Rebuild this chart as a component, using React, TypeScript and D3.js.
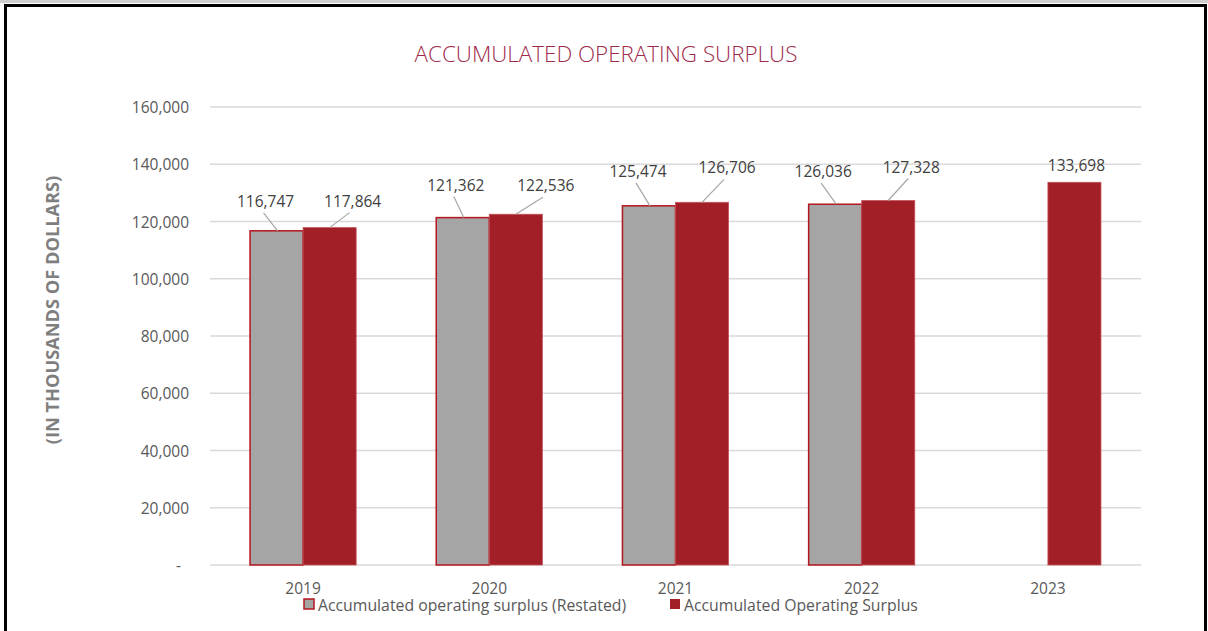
import * as d3 from "d3";
import * as React from "react";

// chart values
const years = ["2019", "2020", "2021", "2022", "2023"];
const restated = [116747, 121362, 125474, 126036, null];
const surplus = [117864, 122536, 126706, 127328, 133698];
const yTicks = [0, 20000, 40000, 60000, 80000, 100000, 120000, 140000, 160000];

const seriesNames = ["Accumulated operating surplus (Restated)", "Accumulated Operating Surplus"];

// where Excel dragged each data label to (px from bar top centre)
const restatedNudge = [[-11, -30], [-7, -33], [-11, -35], [-12, -33], [0, 0]];
const surplusNudge = [[23, -27], [30, -29], [25, -35], [23, -34], [2, -17]];

export default function App() {
  const ref = React.useRef<SVGSVGElement>(null);

  React.useEffect(() => {
    const width = 1208, height = 631;
    const margin = { top: 107, right: 67, bottom: 66, left: 210 };
    const font = "'Open Sans', 'Noto Sans', sans-serif";
    const gray = "#a5a5a5", red = "#a21f27";

    const svg = d3.select(ref.current);
    svg.selectAll("*").remove();
    svg.attr("width", width).attr("height", height).attr("font-family", font);

    // page frame
    svg.append("rect").attr("width", width).attr("height", height).attr("fill", "#fff");
    svg.append("rect").attr("width", width).attr("height", 3).attr("fill", "#cfcfcf");
    svg.append("rect")
      .attr("x", 5.5).attr("y", 5.5)
      .attr("width", 1200).attr("height", height + 10)
      .attr("fill", "none").attr("stroke", "#000").attr("stroke-width", 3);

    const y = d3.scaleLinear()
      .domain([0, 160000])
      .range([height - margin.bottom, margin.top]);

    const x0 = d3.scaleBand()
      .domain(years)
      .range([margin.left, width - margin.right])
      .paddingInner(0.43)
      .paddingOuter(0.215);

    const x1 = d3.scaleBand()
      .domain(["restated", "surplus"])
      .range([0, x0.bandwidth()]);

    // title
    svg.append("text")
      .attr("x", 606).attr("y", 53)
      .attr("text-anchor", "middle").attr("dominant-baseline", "central")
      .attr("font-size", 22.4).attr("font-weight", 300)
      .attr("fill", "#9e2a4b")
      .text("ACCUMULATED OPERATING SURPLUS");

    // gridlines + y labels
    const grid = svg.append("g");
    grid.selectAll("line")
      .data(yTicks)
      .join("line")
      .attr("x1", margin.left).attr("x2", width - margin.right)
      .attr("y1", d => y(d)).attr("y2", d => y(d))
      .attr("stroke", "#d9d9d9").attr("stroke-width", 1.5);
    grid.selectAll("text")
      .data(yTicks)
      .join("text")
      .attr("x", d => (d === 0 ? 181 : 189))
      .attr("y", d => y(d))
      .attr("text-anchor", "end").attr("dominant-baseline", "central")
      .attr("font-size", 15.5).attr("fill", "#595959")
      .text(d => (d === 0 ? "-" : d3.format(",")(d)));

    // y axis title
    svg.append("text")
      .attr("transform", `translate(52,${310}) rotate(-90)`)
      .attr("text-anchor", "middle").attr("dominant-baseline", "central")
      .attr("font-size", 18.2).attr("font-weight", 700)
      .attr("fill", "#7f7f7f")
      .text("(IN THOUSANDS OF DOLLARS)");

    // bars
    const rows = years.map((yr, i) => ({
      year: yr,
      items: [
        { key: "restated", value: restated[i], nudge: restatedNudge[i] },
        { key: "surplus", value: surplus[i], nudge: surplusNudge[i] },
      ].filter(d => d.value != null),
    }));

    const groups = svg.append("g")
      .selectAll("g")
      .data(rows)
      .join("g")
      .attr("transform", d => `translate(${x0(d.year)},0)`);

    groups.selectAll("rect")
      .data(d => d.items)
      .join("rect")
      .attr("x", d => x1(d.key)!)
      .attr("y", d => y(d.value!))
      .attr("width", x1.bandwidth())
      .attr("height", d => y(0) - y(d.value!))
      .attr("fill", d => (d.key === "restated" ? gray : red))
      .attr("stroke", d => (d.key === "restated" ? "#b4161e" : "#c4545a"))
      .attr("stroke-width", d => (d.key === "restated" ? 1.5 : 0.8));

    // leader lines
    groups.selectAll("line")
      .data(d => d.items.filter(it => Math.hypot(it.nudge[0], it.nudge[1]) > 20))
      .join("line")
      .attr("x1", d => x1(d.key)! + x1.bandwidth() / 2 + d.nudge[0] - (d.key === "restated" ? 2 : 3))
      .attr("y1", d => y(d.value!) + d.nudge[1] + 12)
      .attr("x2", d => x1(d.key)! + x1.bandwidth() / 2 + (d.key === "restated" ? 1 : 0))
      .attr("y2", d => y(d.value!))
      .attr("stroke", "#a6a6a6").attr("stroke-width", 1.2);

    // data labels
    groups.selectAll("text")
      .data(d => d.items)
      .join("text")
      .attr("x", d => x1(d.key)! + x1.bandwidth() / 2 + d.nudge[0])
      .attr("y", d => y(d.value!) + d.nudge[1])
      .attr("text-anchor", "middle").attr("dominant-baseline", "central")
      .attr("font-size", 15.5).attr("fill", "#404040")
      .text(d => d3.format(",")(d.value!));

    // x labels
    svg.append("g")
      .selectAll("text")
      .data(years)
      .join("text")
      .attr("x", d => x0(d)! + x0.bandwidth() / 2)
      .attr("y", 587.5)
      .attr("text-anchor", "middle").attr("dominant-baseline", "central")
      .attr("font-size", 15.5).attr("fill", "#595959")
      .text(d => d);

    // legend
    const legend = svg.append("g").attr("font-size", 15.8).attr("fill", "#595959");
    const legendX = [304, 670];
    seriesNames.forEach((name, i) => {
      legend.append("rect")
        .attr("x", legendX[i]).attr("y", 599)
        .attr("width", 10).attr("height", 10)
        .attr("fill", i === 0 ? gray : red)
        .attr("stroke", i === 0 ? "#b4161e" : "none").attr("stroke-width", 1.5);
      legend.append("text")
        .attr("x", legendX[i] + 14).attr("y", 604.5)
        .attr("dominant-baseline", "central")
        .text(name);
    });
  }, []);

  return (
    <svg ref={ref} style={{ position: "absolute", left: 0, top: 0, display: "block" }}></svg>
  );
}
